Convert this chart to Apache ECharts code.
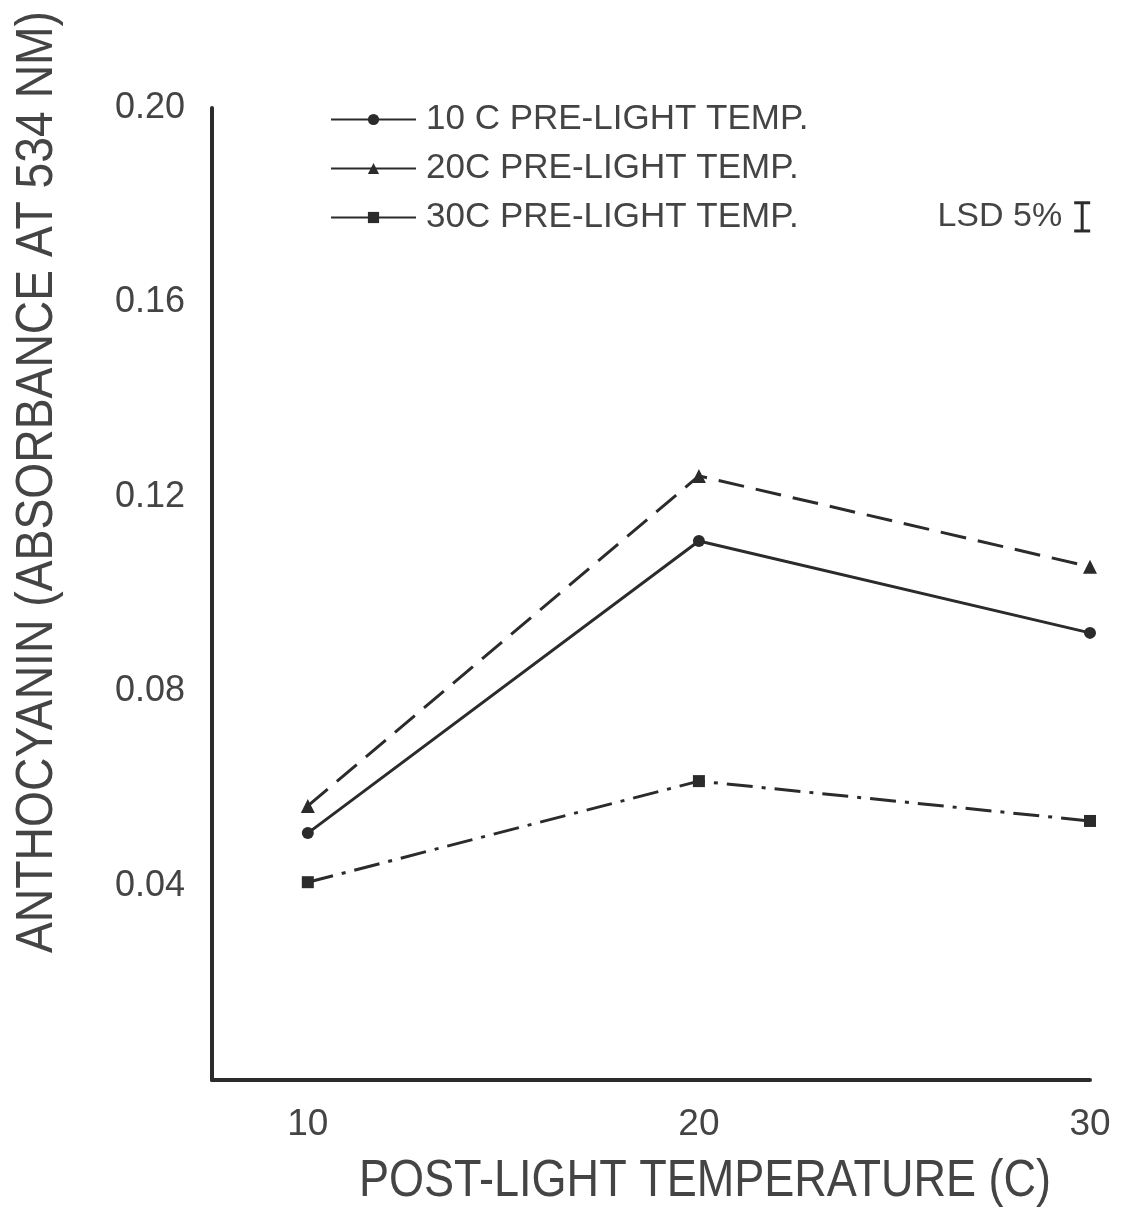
<!DOCTYPE html>
<html>
<head>
<meta charset="utf-8">
<script src="https://cdn.jsdelivr.net/npm/echarts@6/dist/echarts.min.js"></script>
<style>
  html, body { margin: 0; padding: 0; background: #fff; }
  #chart { width: 1125px; height: 1212px; }
</style>
</head>
<body>
<div id="chart"></div>
<script>
// 数据
const postTemps = [10, 20, 30];
const pre10 = [0.0508, 0.1109, 0.0920];
const pre20 = [0.0564, 0.1243, 0.1056];
const pre30 = [0.0407, 0.0615, 0.0533];
const seriesNames = ['10 C PRE-LIGHT TEMP.', '20C PRE-LIGHT TEMP.', '30C PRE-LIGHT TEMP.'];
const yTicks = [0.04, 0.08, 0.12, 0.16, 0.20];
const xTicks = [10, 20, 30];
// LSD 5% 误差棒：[x, 中心值, 长度]
const lsd = [[29.8, 0.1776, 0.0058]];

const ink = '#2b2b2b';
const font = 'Liberation Sans';

function pairs(vals) {
  return postTemps.map((t, i) => [t, vals[i]]);
}

const chart = echarts.init(document.getElementById('chart'));

const option = {
  backgroundColor: '#ffffff',
  animation: false,
  grid: { left: 212, right: 35, top: 108, bottom: 132 },
  xAxis: {
    type: 'value',
    min: 7.55,
    max: 30,
    splitLine: { show: false },
    axisTick: { show: false },
    axisLine: { show: true, onZero: false, lineStyle: { color: ink, width: 4 } },
    axisLabel: {
      customValues: xTicks,
      margin: 26,
      fontSize: 37,
      fontFamily: font,
      color: '#444'
    }
  },
  yAxis: {
    type: 'value',
    min: 0,
    max: 0.20,
    interval: 0.04,
    splitLine: { show: false },
    axisTick: { show: false },
    axisLine: { show: true, lineStyle: { color: ink, width: 4 } },
    axisLabel: {
      customValues: yTicks,
      align: 'left',
      margin: 97,
      fontSize: 36,
      fontFamily: font,
      color: '#444',
      formatter: v => v.toFixed(2)
    }
  },
  legend: {
    left: 325,
    top: 97,
    orient: 'vertical',
    itemWidth: 85,
    itemHeight: 14,
    itemGap: 14,
    textStyle: { fontSize: 35, fontFamily: font, color: '#444', padding: [0, 0, 0, 5] },
    data: seriesNames.map(n => ({ name: n, lineStyle: { type: 'solid' } }))
  },
  graphic: [
    {
      type: 'text',
      x: 38, y: 482,
      rotation: Math.PI / 2,
      scaleX: 0.89, scaleY: 1,
      style: {
        text: 'ANTHOCYANIN (ABSORBANCE AT 534 NM)',
        font: '52px "Liberation Sans"',
        fill: '#444',
        align: 'center',
        verticalAlign: 'middle'
      }
    },
    {
      type: 'text',
      x: 705, y: 1182,
      scaleX: 0.866, scaleY: 1,
      style: {
        text: 'POST-LIGHT TEMPERATURE (C)',
        font: '52px "Liberation Sans"',
        fill: '#444',
        align: 'center',
        verticalAlign: 'middle'
      }
    }
  ],
  series: [
    {
      name: seriesNames[0],
      type: 'line',
      data: pairs(pre10),
      symbol: 'circle',
      symbolSize: 12,
      lineStyle: { color: ink, width: 3 },
      itemStyle: { color: ink }
    },
    {
      name: seriesNames[1],
      type: 'line',
      data: pairs(pre20),
      symbol: 'triangle',
      symbolSize: 14,
      lineStyle: { color: ink, width: 3, type: [26, 12] },
      itemStyle: { color: ink }
    },
    {
      name: seriesNames[2],
      type: 'line',
      data: pairs(pre30),
      symbol: 'rect',
      symbolSize: 12,
      lineStyle: { color: ink, width: 3, type: [26, 9, 4, 9] },
      itemStyle: { color: ink }
    },
    {
      type: 'custom',
      silent: true,
      data: lsd,
      renderItem: function (params, api) {
        const x = api.value(0), c = api.value(1), len = api.value(2);
        const top = api.coord([x, c + len / 2]);
        const bot = api.coord([x, c - len / 2]);
        const cap = 8;
        return {
          type: 'group',
          children: [
            { type: 'line', shape: { x1: top[0], y1: top[1], x2: bot[0], y2: bot[1] }, style: { stroke: ink, lineWidth: 3 } },
            { type: 'line', shape: { x1: top[0] - cap, y1: top[1], x2: top[0] + cap, y2: top[1] }, style: { stroke: ink, lineWidth: 3 } },
            { type: 'line', shape: { x1: bot[0] - cap, y1: bot[1], x2: bot[0] + cap, y2: bot[1] }, style: { stroke: ink, lineWidth: 3 } },
            {
              type: 'text',
              x: top[0] - 20, y: (top[1] + bot[1]) / 2,
              style: { text: 'LSD 5%', font: '34px "Liberation Sans"', fill: '#444', align: 'right', verticalAlign: 'middle' }
            }
          ]
        };
      }
    }
  ]
};

chart.setOption(option);
</script>
</body>
</html>
